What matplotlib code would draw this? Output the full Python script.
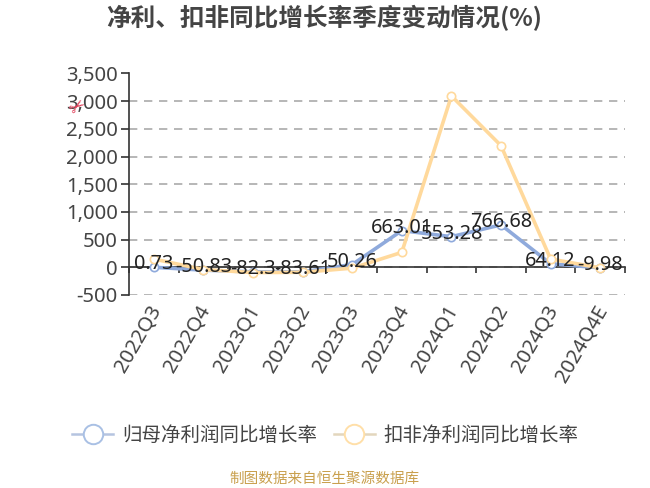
import matplotlib
matplotlib.use("Agg")
import matplotlib.pyplot as plt
from matplotlib.lines import Line2D
from matplotlib.ticker import FuncFormatter
from matplotlib.transforms import ScaledTranslation
import numpy as np

plt.rcParams['font.family'] = ['Noto Sans', 'Noto Sans CJK SC', 'DejaVu Sans']

quarters = ['2022Q3', '2022Q4', '2023Q1', '2023Q2', '2023Q3',
            '2023Q4', '2024Q1', '2024Q2', '2024Q3', '2024Q4E']
net_profit = [0.73, -50.83, -82.3, -83.61, 50.26, 663.01, 553.28, 766.68, 64.12, -9.98]
net_profit_adj = [150, -40, -95, -90, -15, 270, 3095, 2197, 150, -10]
net_labels = ['0.73', '-50.83', '-82.3', '-83.61', '50.26', '663.01', '553.28', '766.68', '64.12', '-9.98']
y_ticks = [-500, 0, 500, 1000, 1500, 2000, 2500, 3000, 3500]

BLUE = '#8FAADC'
ORANGE = '#FFD99C'
GREY = '#444444'

W, H = 650, 488
fig = plt.figure(figsize=(W / 100, H / 100), dpi=100)
left, right, top, bottom = 129, 625, 73.5, 295
ax = fig.add_axes([left / W, 1 - bottom / H, (right - left) / W, (bottom - top) / H])

x = np.arange(len(quarters))
ax.set_xlim(-0.5, len(quarters) - 0.5)
ax.set_ylim(-500, 3500)

# grid + axes
ax.yaxis.grid(True, color='#aaaaaa', linewidth=1.2, linestyle=(0, (5, 4)), zorder=0)
ax.set_axisbelow(True)
for side in ['top', 'right']:
    ax.spines[side].set_visible(False)
ax.spines['left'].set_color('#333333')
ax.spines['left'].set_linewidth(1.2)
ax.spines['bottom'].set_position(('data', 0))
ax.spines['bottom'].set_color('#333333')
ax.spines['bottom'].set_linewidth(1.2)

ax.set_yticks(y_ticks)
ax.yaxis.set_major_formatter(FuncFormatter(lambda v, _: f'{v:,.0f}'))
ax.tick_params(axis='y', length=6, width=1.2, color='#333333', labelcolor=GREY, labelsize=14.6, pad=2)

# ticks sit on the band edges, labels go at the bottom of the plot
ax.set_xticks(np.arange(len(quarters) + 1) - 0.5)
ax.tick_params(axis='x', length=4, width=1.2, color='#333333', labelbottom=False)
sec = ax.secondary_xaxis('bottom')
sec.set_xticks(x, quarters)
sec.spines['bottom'].set_visible(False)
sec.tick_params(axis='x', length=0, labelcolor=GREY, labelsize=14.6, pad=5)
nudge = ScaledTranslation(-4 / 72, 0, fig.dpi_scale_trans)
for lab in sec.get_xticklabels():
    lab.set_rotation(60)
    lab.set_ha('right')
    lab.set_rotation_mode('anchor')
    lab.set_transform(lab.get_transform() + nudge)

ax.plot(x, net_profit, color=BLUE, linewidth=2.6, marker='o', markersize=6,
        markerfacecolor='white', markeredgecolor=BLUE, markeredgewidth=1.2, zorder=3, clip_on=False)
ax.plot(x, net_profit_adj, color=ORANGE, linewidth=2.6, marker='o', markersize=6,
        markerfacecolor='white', markeredgecolor=ORANGE, markeredgewidth=1.2, zorder=4, clip_on=False)

for px, py, label in zip(x, net_profit, net_labels):
    ax.annotate(label, (px, py), xytext=(0, 2), textcoords='offset points',
                ha='center', va='center', fontsize=14.3, color='#222222', zorder=5)

fig.text(324 / W, 1 - 18 / H, '净利、扣非同比增长率季度变动情况(%)', ha='center', va='center',
         fontsize=17.7, fontweight='bold', color=GREY, family='Noto Sans CJK SC')
fig.text(77 / W, 1 - 107 / H, '✂', ha='center', va='center', fontsize=14, color='#e0405a',
         family='DejaVu Sans', rotation=35)

handles = [
    Line2D([], [], color='#b5c4e0', linewidth=1.8, marker='o', markersize=14,
           markerfacecolor='white', markeredgecolor='#a9c0e4', markeredgewidth=1.4),
    Line2D([], [], color='#e3d6bd', linewidth=1.8, marker='o', markersize=14,
           markerfacecolor='white', markeredgecolor='#ffdfa8', markeredgewidth=1.4),
]
fig.legend(handles, ['归母净利润同比增长率', '扣非净利润同比增长率'], loc='center',
           bbox_to_anchor=(325.5 / W, 1 - 436 / H), ncol=2, frameon=False, fontsize=14,
           labelcolor=GREY, handlelength=2.1, handletextpad=0.46, columnspacing=0.88)

fig.text(325 / W, 1 - 479 / H, '制图数据来自恒生聚源数据库', ha='center', va='center',
         fontsize=10.5, color='#c9a04e')

fig.savefig('out.png', dpi=100)
